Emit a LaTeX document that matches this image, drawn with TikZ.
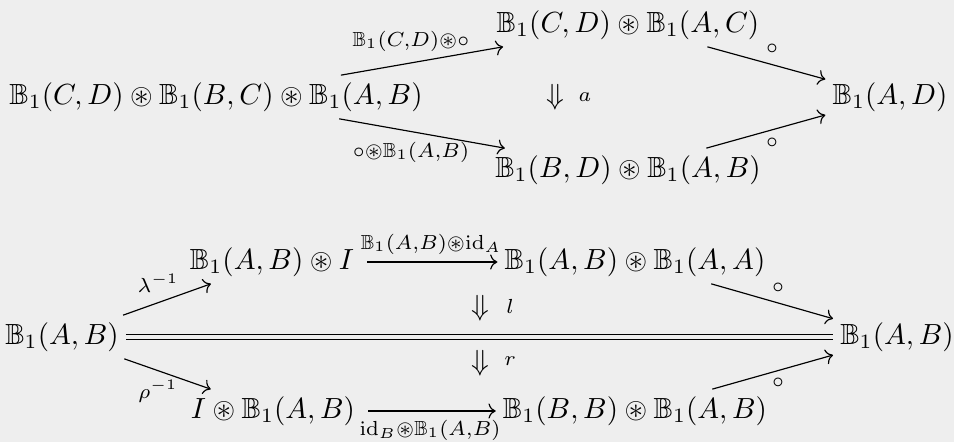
\documentclass[tikz,border=0pt]{standalone}
\usepackage{amssymb}
\usetikzlibrary{arrows.meta}
\definecolor{bg}{RGB}{238,238,238}
\begin{document}
\begin{tikzpicture}[x=0.3436pt,y=-0.3436pt,
  obj/.style={inner sep=0pt, outer sep=2.5pt},
  lab/.style={inner sep=0pt},
  arr/.style={line width=0.4pt, -{Computer Modern Rightarrow}},
  eqline/.style={double=bg, double distance=1.6pt, line width=0.4pt}]
\fill[bg] (0,0) rectangle (954,442);
\useasboundingbox (0,0) rectangle (954,442);
% top diagram
\node[obj] (L1) at (216,97) {$\mathbb{B}_1(C,D)\circledast\mathbb{B}_1(B,C)\circledast\mathbb{B}_1(A,B)$};
\node[obj] (T1) at (628,25) {$\mathbb{B}_1(C,D)\circledast\mathbb{B}_1(A,C)$};
\node[obj] (B1) at (628,170) {$\mathbb{B}_1(B,D)\circledast\mathbb{B}_1(A,B)$};
\node[obj] (R1) at (890,97) {$\mathbb{B}_1(A,D)$};
\draw[arr] (L1) -- (T1);
\draw[arr] (L1) -- (B1);
\draw[arr] (T1) -- (R1);
\draw[arr] (B1) -- (R1);
\node[lab] (l1) at (411,41) {$\scriptstyle\mathbb{B}_1(C,D)\circledast\circ$};
\node[lab] (l2) at (411,152) {$\scriptstyle\circ\circledast\mathbb{B}_1(A,B)$};
\node[lab] (l3) at (772,49) {$\scriptstyle\circ$};
\node[lab] (l4) at (772,143) {$\scriptstyle\circ$};
\node[lab] (d1) at (555,97) {$\Downarrow$};
\node[lab] (d1l) at (585,97) {$\scriptstyle a$};
% bottom diagram
\node[obj] (L2) at (62,337) {$\mathbb{B}_1(A,B)$};
\node[obj] (T2) at (272,262) {$\mathbb{B}_1(A,B)\circledast I$};
\node[obj] (B2) at (273,411) {$I\circledast\mathbb{B}_1(A,B)$};
\node[obj] (T3) at (635,262) {$\mathbb{B}_1(A,B)\circledast\mathbb{B}_1(A,A)$};
\node[obj] (B3) at (635,411) {$\mathbb{B}_1(B,B)\circledast\mathbb{B}_1(A,B)$};
\node[obj] (R2) at (897,337) {$\mathbb{B}_1(A,B)$};
\draw[arr] (L2) -- (T2);
\draw[arr] (L2) -- (B2);
\draw[arr, shorten <=2pt] (T2) -- (T3);
\draw[arr, shorten <=2pt] (B2) -- (B3);
\draw[arr] (T3) -- (R2);
\draw[arr] (B3) -- (R2);
\draw[eqline] (L2) -- (R2);
\node[lab] (m1) at (158,283) {$\scriptstyle\lambda^{-1}$};
\node[lab] (m2) at (158,391) {$\scriptstyle\rho^{-1}$};
\node[lab] (m3) at (431,244) {$\scriptstyle\mathbb{B}_1(A,B)\circledast\mathrm{id}_A$};
\node[lab] (m4) at (430,430) {$\scriptstyle\mathrm{id}_B\circledast\mathbb{B}_1(A,B)$};
\node[lab] (m5) at (778,288) {$\scriptstyle\circ$};
\node[lab] (m6) at (778,383) {$\scriptstyle\circ$};
\node[lab] (d2) at (480,308) {$\Downarrow$};
\node[lab] (d2l) at (510,306) {$\scriptstyle l$};
\node[lab] (d3) at (480,363) {$\Downarrow$};
\node[lab] (d3l) at (510,361) {$\scriptstyle r$};
\end{tikzpicture}
\end{document}
